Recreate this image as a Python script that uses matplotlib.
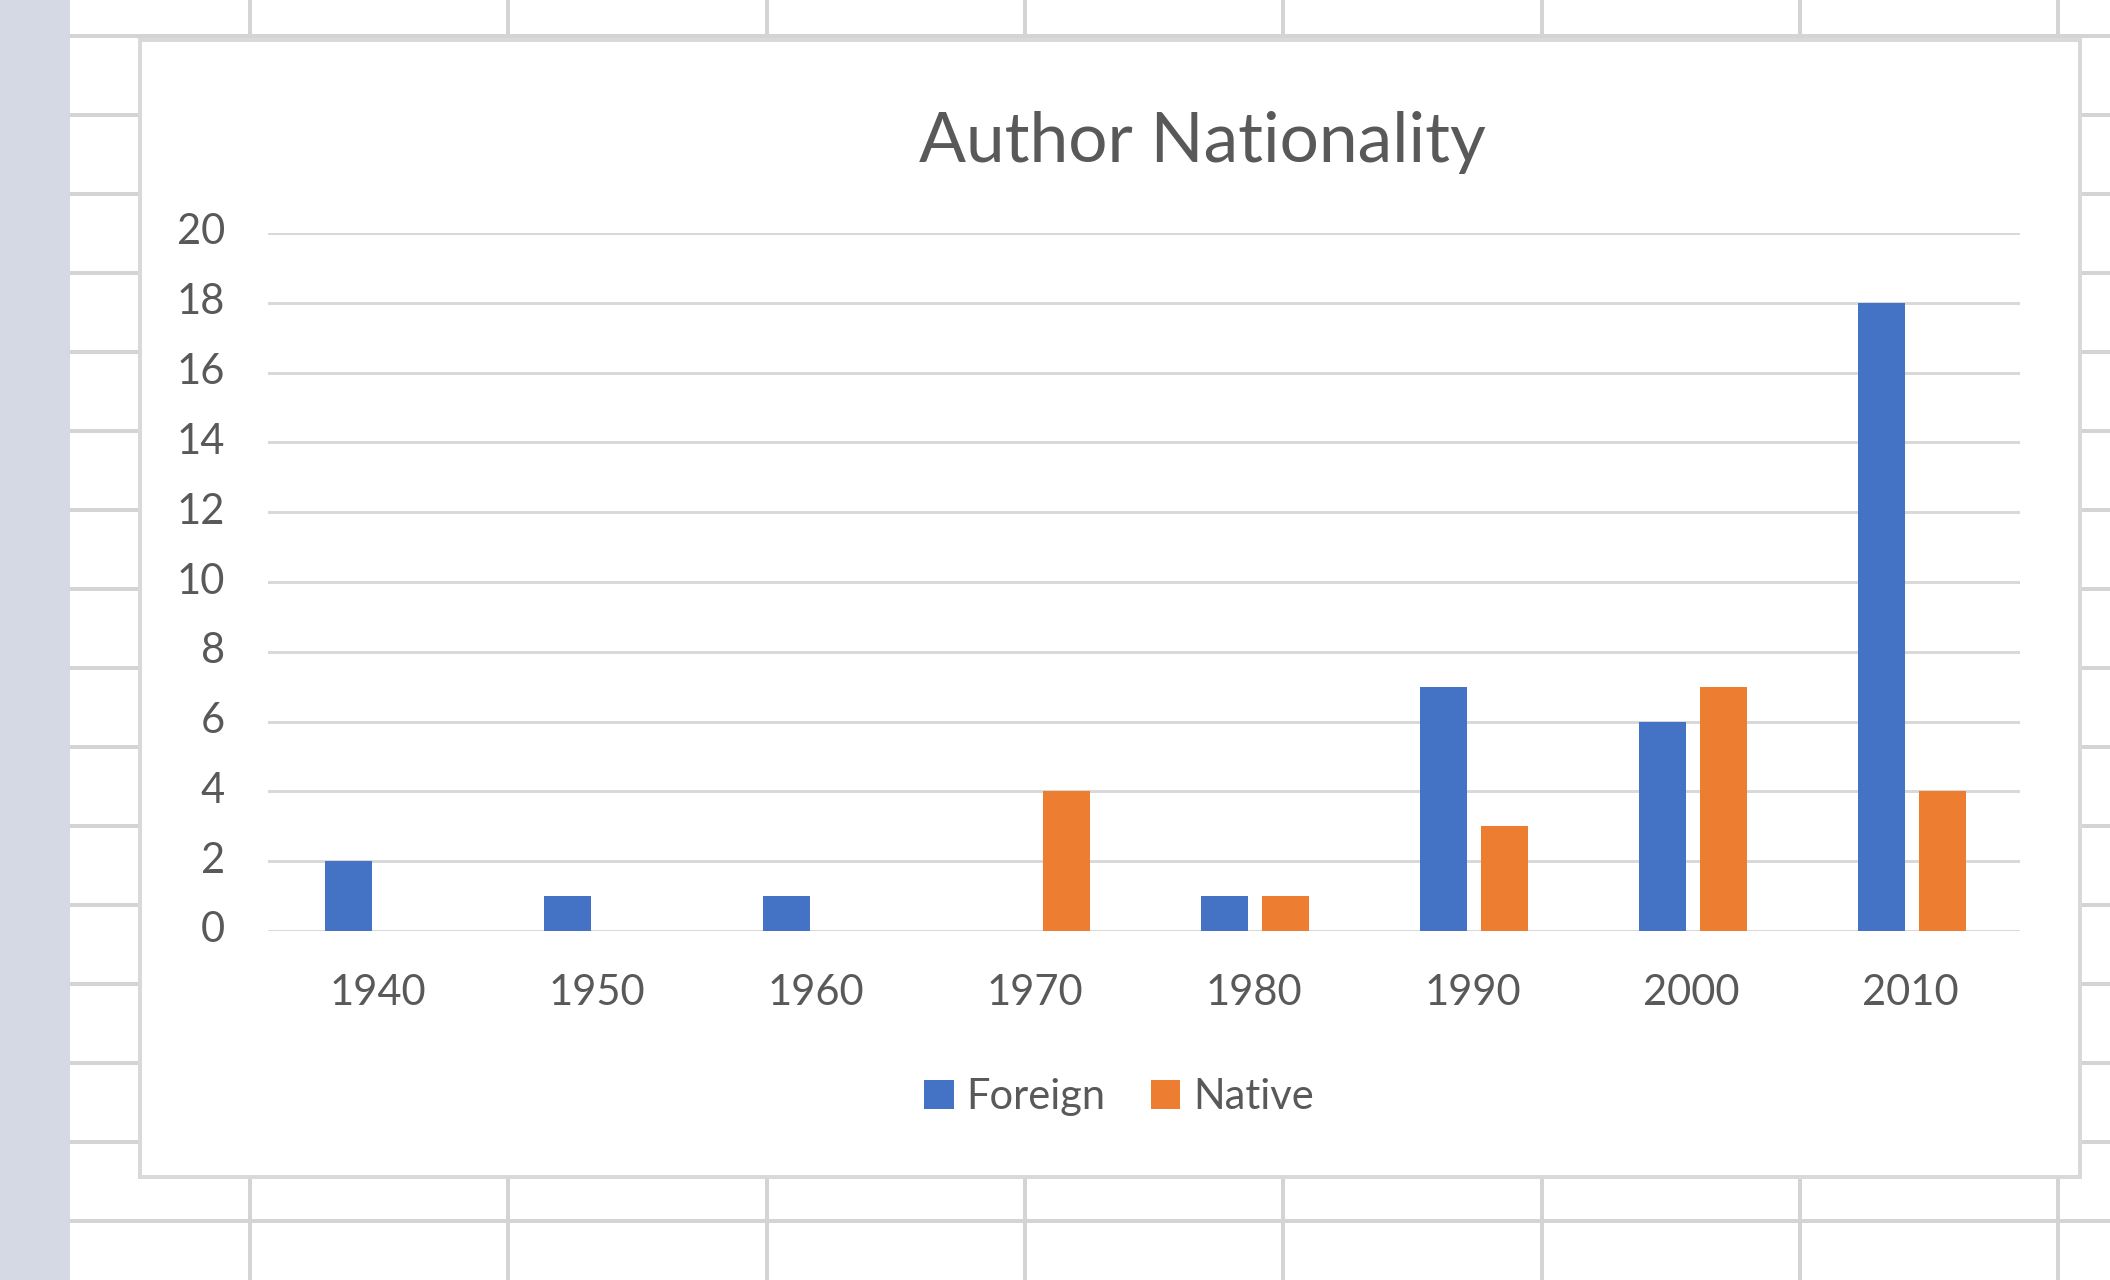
import matplotlib
matplotlib.use("Agg")
import matplotlib.pyplot as plt
from matplotlib.patches import Rectangle, Patch
from matplotlib.transforms import ScaledTranslation
import numpy as np

# ---- data ----
categories = ["1940", "1950", "1960", "1970", "1980", "1990", "2000", "2010"]
foreign = [2, 1, 1, 0, 1, 7, 6, 18]
native = [0, 0, 0, 4, 1, 3, 7, 4]
series_names = ["Foreign", "Native"]
y_ticks = [0, 2, 4, 6, 8, 10, 12, 14, 16, 18, 20]
title = "Author Nationality"

W, H = 2110, 1280
DPI = 100
FONT = "Lato"
TXT = "#595959"
GRID = "#d9d9d9"
SHEET = "#d4d4d4"
BLUE = "#4472C4"
ORANGE = "#ED7D31"

def px(p):
    return p * 72.0 / DPI

fig = plt.figure(figsize=(W / DPI, H / DPI), dpi=DPI)
fig.patch.set_facecolor("white")

# ---- spreadsheet background ----
bg = fig.add_axes([0, 0, 1, 1], zorder=0)
bg.set_xlim(0, W)
bg.set_ylim(H, 0)
bg.axis("off")
for k in range(17):
    y = 36 + 79 * k
    bg.plot([70, W], [y, y], color=SHEET, lw=px(4), solid_capstyle="butt")
for k in range(8):
    x = 250 + 258.3 * k
    bg.plot([x, x], [0, H], color=SHEET, lw=px(4), solid_capstyle="butt")
bg.add_patch(Rectangle((140, 40), 1940, 1137, facecolor="white",
                       edgecolor=GRID, lw=px(4), zorder=5))
bg.add_patch(Rectangle((0, 0), 70, H, facecolor="#d5d9e4",
                       edgecolor="none", zorder=6))

# ---- chart ----
x0, x1, ytop, y0 = 268, 2020, 233, 931
ax = fig.add_axes([x0 / W, 1 - y0 / H, (x1 - x0) / W, (y0 - ytop) / H], zorder=2)
ax.patch.set_alpha(0)
xpos = np.arange(len(categories))
bw = 0.215
off = 0.138
ax.bar(xpos - off + 0.005, foreign, width=bw, color=BLUE, zorder=3)
ax.bar(xpos + off + 0.01, native, width=bw, color=ORANGE, zorder=3)
ax.set_xlim(-0.5, len(categories) - 0.5)
ax.set_ylim(0, 20)
ax.set_yticks(y_ticks)
ax.set_yticklabels([str(v) for v in y_ticks])
ax.set_xticks(xpos)
ax.set_xticklabels(categories)
ax.yaxis.grid(True, color=GRID, lw=px(3))
ax.set_axisbelow(True)
for s in ax.spines.values():
    s.set_visible(False)
ax.tick_params(axis="y", length=0, pad=px(43), labelsize=30, labelcolor=TXT)
ax.tick_params(axis="x", length=0, pad=px(43), labelsize=30, labelcolor=TXT)
shift_up = ScaledTranslation(0, 4 / DPI, fig.dpi_scale_trans)
for lab in ax.get_yticklabels():
    lab.set_fontfamily(FONT)
    lab.set_transform(lab.get_transform() + shift_up)
for lab in ax.get_xticklabels():
    lab.set_fontfamily(FONT)

fig.text(1202 / W, 1 - 143 / H, title, ha="center", va="center",
         fontsize=50, color=TXT, family=FONT)

handles = [Patch(facecolor=BLUE, edgecolor="none"),
           Patch(facecolor=ORANGE, edgecolor="none")]
leg = fig.legend(handles, series_names, loc="center",
                 bbox_to_anchor=(1119 / W, 1 - 1097 / H), ncol=2,
                 frameon=False, handlelength=0.7, handleheight=0.7,
                 handletextpad=0.3, columnspacing=1.1,
                 prop={"family": FONT, "size": 30})
for t in leg.get_texts():
    t.set_color(TXT)

fig.savefig("out.png", dpi=DPI)
